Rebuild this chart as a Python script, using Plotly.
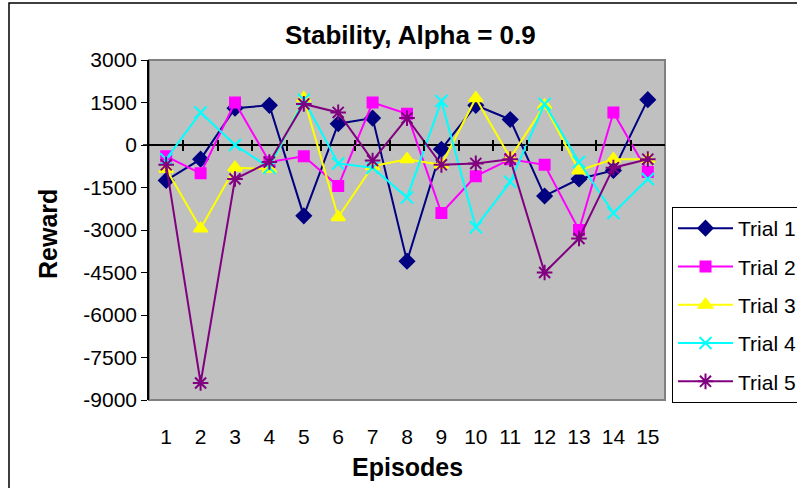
import plotly.graph_objects as go

episodes = list(range(1, 16))
trial1 = [-1250, -500, 1300, 1400, -2500, 750, 950, -4100, -150, 1400, 900, -1800, -1200, -900, 1600]
trial2 = [-400, -1000, 1500, -600, -400, -1450, 1500, 1100, -2400, -1100, -500, -700, -3000, 1150, -950]
trial3 = [-850, -2950, -800, -850, 1650, -2550, -750, -500, -700, 1650, -450, 1400, -900, -500, -500]
trial4 = [-500, 1150, 0, -800, 1600, -650, -800, -1850, 1550, -2900, -1300, 1450, -600, -2400, -1200]
trial5 = [-700, -8400, -1200, -600, 1450, 1150, -550, 950, -700, -650, -500, -4500, -3300, -800, -500]
y_ticks = [3000, 1500, 0, -1500, -3000, -4500, -6000, -7500, -9000]
y_tick_text = ["3000", "1500", "0", "-1500", "-3000", "-4500", "-6000", "-7500", "-9000"]

names = ["Trial 1", "Trial 2", "Trial 3", "Trial 4", "Trial 5"]
colors = ["#000080", "#FF00FF", "#FFFF00", "#00FFFF", "#800080"]
symbols = ["diamond", "square", "triangle-up", "x-thin-open", "asterisk-open"]
sizes = [11, 10, 12, 12, 13]
series = [trial1, trial2, trial3, trial4, trial5]

FONT = "Arial, Liberation Sans, sans-serif"

fig = go.Figure()
for nm, c, s, sz, ys in zip(names, colors, symbols, sizes, series):
    fig.add_trace(go.Scatter(
        x=episodes, y=ys, name=nm, mode="lines+markers",
        line=dict(color=c, width=2),
        marker=dict(symbol=s, size=sz, color=c, line=dict(color=c, width=2)),
        legendgroup=nm,
    ))

L, R, T, B = 149, 665, 60, 400
W, H = 797, 488
pw, ph = R - L, B - T

fig.update_layout(
    width=W, height=H,
    margin=dict(l=L, r=W - R, t=T, b=H - B, autoexpand=False),
    paper_bgcolor="white",
    plot_bgcolor="#C0C0C0",
    font=dict(family=FONT, size=21, color="black"),
    showlegend=True,
    legend=dict(
        x=(672 - L) / pw, y=(B - 207) / ph, xanchor="left", yanchor="top",
        bgcolor="white", bordercolor="black", borderwidth=1,
        font=dict(family=FONT, size=21, color="black"),
        tracegroupgap=8, itemwidth=55,
    ),
    xaxis=dict(
        range=[0.5, 15.5], tickmode="array", tickvals=episodes,
        ticktext=[str(e) for e in episodes],
        showgrid=False, zeroline=False, showline=False, ticks="",
        ticklabelstandoff=22,
        tickfont=dict(size=21), fixedrange=True,
    ),
    xaxis2=dict(
        overlaying="x", anchor="free", position=(0 - (-9000)) / 12000,
        range=[0.5, 15.5], tickmode="array",
        tickvals=[k + 0.5 for k in range(1, 15)],
        showticklabels=False, showgrid=False, zeroline=False, showline=False,
        ticks="inside", ticklen=5, tickcolor="black", tickwidth=1.5,
    ),
    xaxis3=dict(
        overlaying="x", anchor="free", position=(0 - (-9000)) / 12000,
        range=[0.5, 15.5], tickmode="array",
        tickvals=[k + 0.5 for k in range(1, 15)],
        showticklabels=False, showgrid=False, zeroline=False, showline=False,
        ticks="outside", ticklen=5, tickcolor="black", tickwidth=1.5,
    ),
    yaxis=dict(
        range=[-9000, 3000], tickmode="array", tickvals=y_ticks, ticktext=y_tick_text,
        showgrid=False, zeroline=True, zerolinecolor="black", zerolinewidth=1.5,
        showline=True, linecolor="black", linewidth=1.5,
        ticks="outside", ticklen=6, tickcolor="black",
        tickfont=dict(size=21), fixedrange=True,
    ),
    shapes=[
        dict(type="rect", xref="paper", yref="paper", x0=0, x1=1, y0=0, y1=1,
             line=dict(color="#808080", width=2), layer="below"),
        dict(type="rect", xref="paper", yref="paper",
             x0=(9 - L) / pw, x1=(W + 20 - L) / pw,
             y0=(B - (H + 20)) / ph, y1=(B - 3) / ph,
             line=dict(color="black", width=1.5), fillcolor="rgba(0,0,0,0)"),
        dict(type="line", xref="paper", yref="y", x0=(143 - L) / pw, x1=0, y0=0, y1=0,
             line=dict(color="black", width=1.5)),
    ],
    annotations=[
        dict(text="<b>Stability, Alpha = 0.9</b>", xref="paper", yref="paper",
             x=(410 - L) / pw, y=(B - 35) / ph, xanchor="center", yanchor="middle",
             showarrow=False, font=dict(size=26)),
        dict(text="<b>Episodes</b>", xref="paper", yref="paper",
             x=(407 - L) / pw, y=(B - 467) / ph, xanchor="center", yanchor="middle",
             showarrow=False, font=dict(size=25)),
        dict(text="<b>Reward</b>", xref="paper", yref="paper",
             x=(48 - L) / pw, y=(B - 234) / ph, xanchor="center", yanchor="middle",
             showarrow=False, textangle=-90, font=dict(size=25)),
    ],
)

# invisible helper traces so the tick-mark axes are drawn
fig.add_trace(go.Scatter(x=[1], y=[0], xaxis="x2", mode="markers",
                         marker=dict(opacity=0), showlegend=False, hoverinfo="skip"))
fig.add_trace(go.Scatter(x=[1], y=[0], xaxis="x3", mode="markers",
                         marker=dict(opacity=0), showlegend=False, hoverinfo="skip"))

fig.write_html("out.html")
